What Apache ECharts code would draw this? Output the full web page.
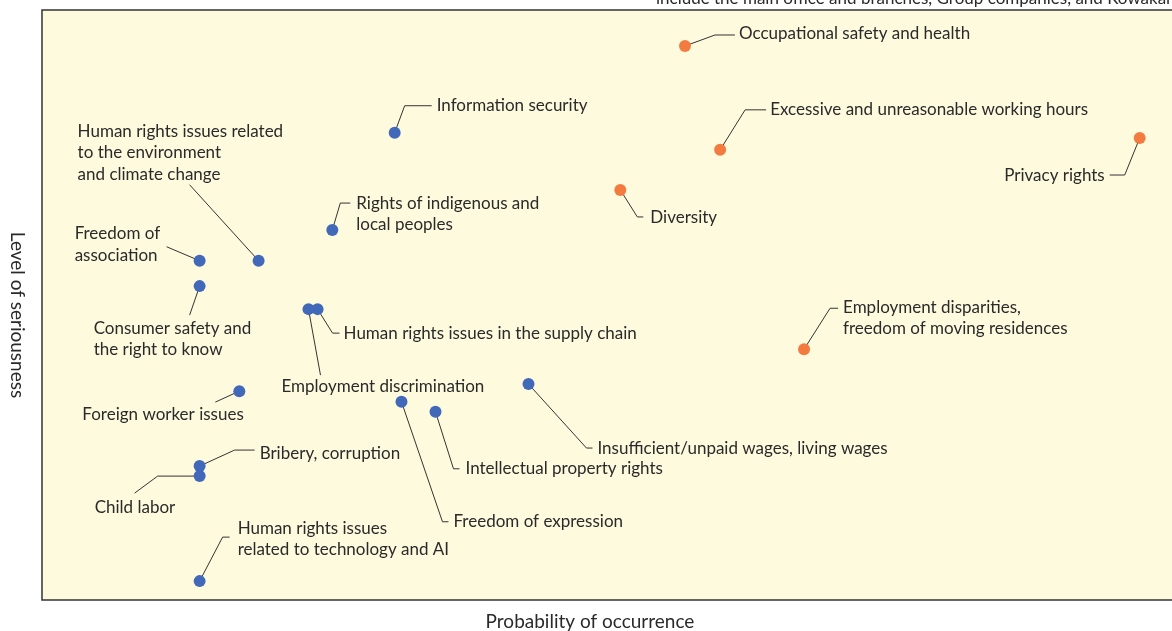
<!DOCTYPE html>
<html lang="en">
<head>
    <meta charset="UTF-8">
    <title>Human rights risk map</title>
    <script src="https://cdn.jsdelivr.net/npm/echarts@6/dist/echarts.min.js"></script>
    <style>
        body { margin: 0; background: #fff; }
        #main { width: 1172px; height: 631px; }
    </style>
</head>
<body>
<div id="main"></div>
<script>
// issues (x = probability, y = seriousness, 0-100)
var issues = [
    'Occupational safety and health',
    'Excessive and unreasonable working hours',
    'Privacy rights',
    'Diversity',
    'Employment disparities,\nfreedom of moving residences',
    'Information security',
    'Human rights issues related\nto the environment\nand climate change',
    'Rights of indigenous and\nlocal peoples',
    'Freedom of\nassociation',
    'Consumer safety and\nthe right to know',
    'Human rights issues in the supply chain',
    'Employment discrimination',
    'Foreign worker issues',
    'Insufficient/unpaid wages, living wages',
    'Freedom of expression',
    'Intellectual property rights',
    'Bribery, corruption',
    'Child labor',
    'Human rights issues\nrelated to technology and AI'
];
var probability = [56.7, 59.8, 96.8, 51.0, 67.2, 31.1, 19.1, 25.6, 13.9, 13.9, 24.3, 23.5, 17.4, 42.9, 31.7, 34.7, 13.9, 13.9, 13.9];
var seriousness = [93.9, 76.3, 78.3, 69.5, 42.5, 79.2, 57.5, 62.7, 57.5, 53.2, 49.3, 49.3, 35.4, 36.6, 33.6, 31.9, 22.7, 21.0, 3.2];
var priority = [1, 1, 1, 1, 1, 0, 0, 0, 0, 0, 0, 0, 0, 0, 0, 0, 0, 0, 0];

// label placement, in pixels relative to each dot (leader bends, label anchor)
var labelPos = [
    {line: [[30, -11], [50, -11]], dx: 54, dy: -12, align: 'left'},
    {line: [[25, -40], [46, -40]], dx: 50, dy: -40, align: 'left'},
    {line: [[-15, 37], [-30, 37]], dx: -35, dy: 37, align: 'right'},
    {line: [[17, 27], [23, 27]], dx: 30, dy: 28, align: 'left'},
    {line: [[26, -41], [34, -41]], dx: 39, dy: -31, align: 'left'},
    {line: [[10, -27], [37, -27]], dx: 42, dy: -27, align: 'left'},
    {line: [[-69, -76]], dx: -181, dy: -108, align: 'left'},
    {line: [[8, -27], [18, -27]], dx: 24, dy: -16, align: 'left'},
    {line: [[-33, -14]], dx: -125, dy: -16, align: 'left'},
    {line: [[-10, 29]], dx: -106, dy: 53, align: 'left'},
    {line: [[15, 24], [22, 24]], dx: 26, dy: 24, align: 'left'},
    {line: [[12, 66]], dx: -27, dy: 77, align: 'left'},
    {line: [[-24, 11]], dx: -157, dy: 23, align: 'left'},
    {line: [[58, 64], [64, 64]], dx: 69, dy: 64, align: 'left'},
    {line: [[41, 120], [47, 120]], dx: 52, dy: 120, align: 'left'},
    {line: [[18, 57], [24, 57]], dx: 30, dy: 57, align: 'left'},
    {line: [[35, -16], [55, -16]], dx: 60, dy: -13, align: 'left'},
    {line: [[-42, 0], [-65, 17]], dx: -105, dy: 31, align: 'left'},
    {line: [[23, -44], [30, -44]], dx: 38, dy: -42, align: 'left'}
];

var colors = ['#4168b9', '#f47b3f'];
var fontFamily = 'Lato, "Open Sans", sans-serif';

var data = [];
for (var i = 0; i < issues.length; i++) {
    data.push([probability[i], seriousness[i], priority[i]]);
}

var chart = echarts.init(document.getElementById('main'));

var option = {
    animation: false,
    grid: {
        left: 42, top: 10, width: 1134, bottom: 31,
        outerBoundsMode: 'none',
        containLabel: false,
        show: true,
        backgroundColor: '#fefade',
        borderColor: '#333',
        borderWidth: 1.5
    },
    xAxis: {
        type: 'value', min: 0, max: 100,
        name: 'Probability of occurrence',
        nameLocation: 'middle', nameGap: 12,
        nameTextStyle: {fontFamily: fontFamily, fontSize: 19, color: '#2a2a2a', padding: [0, 38, 0, 0]},
        axisLine: {show: false}, axisTick: {show: false},
        axisLabel: {show: false}, splitLine: {show: false}
    },
    yAxis: {
        type: 'value', min: 0, max: 100,
        name: 'Level of seriousness',
        nameLocation: 'middle', nameGap: 15, nameRotate: -90,
        nameTextStyle: {fontFamily: fontFamily, fontSize: 19, color: '#2a2a2a', padding: [0, 0, 0, 20]},
        axisLine: {show: false}, axisTick: {show: false},
        axisLabel: {show: false}, splitLine: {show: false}
    },
    graphic: [{
        type: 'text', left: 656, top: -10,
        style: {
            text: 'include the main office and branches, Group companies, and Kowakai',
            font: '17px ' + fontFamily, fill: '#2a2a2a'
        }
    }],
    series: [{
        type: 'custom',
        data: data,
        clip: false,
        renderItem: function (params, api) {
            var idx = params.dataIndex;
            var p = api.coord([api.value(0), api.value(1)]);
            var lay = labelPos[idx];
            var pts = [p.slice()];
            lay.line.forEach(function (d) { pts.push([p[0] + d[0], p[1] + d[1]]); });
            return {
                type: 'group',
                children: [
                    {type: 'polyline', shape: {points: pts}, style: {stroke: '#333', lineWidth: 1, fill: null}},
                    {type: 'circle', shape: {cx: p[0], cy: p[1], r: 6}, style: {fill: colors[api.value(2)]}},
                    {
                        type: 'text', x: p[0] + lay.dx, y: p[1] + lay.dy,
                        style: {
                            text: issues[idx], align: lay.align, verticalAlign: 'middle',
                            font: '17px ' + fontFamily, lineHeight: 21.5, fill: '#2a2a2a'
                        }
                    }
                ]
            };
        }
    }]
};

chart.setOption(option);
</script>
</body>
</html>
